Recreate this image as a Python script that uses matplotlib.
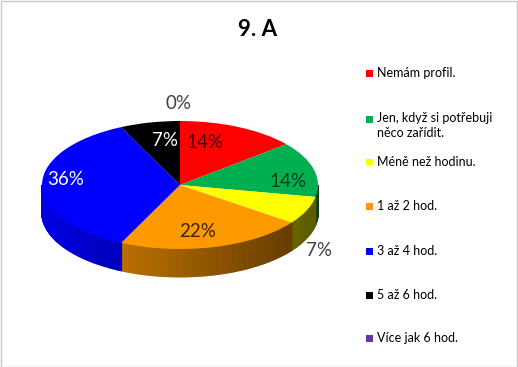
import numpy as np
import matplotlib.pyplot as plt
from matplotlib.patches import Polygon, Rectangle
from matplotlib.colors import to_rgb

# data (percent of answers)
categories = ['Nemám profil.', 'Jen, když si potřebuji\nněco zařídit.', 'Méně než hodinu.',
              '1 až 2 hod.', '3 až 4 hod.', '5 až 6 hod.', 'Více jak 6 hod.']
percents = [14, 14, 7, 22, 36, 7, 0]
colors = ['#ff0000', '#00b050', '#ffff00', '#ff9900', '#0000ff', '#000000', '#7030a0']
title = '9. A'

# label placement in pie units (Excel puts them by hand-ish) and text colour
lab_pos = [(0.18, 0.66), (0.78, 0.05), (1.01, -1.02), (0.13, -0.73),
           (-0.83, 0.08), (-0.11, 0.69), (-0.01, 1.28)]
lab_col = ['#3a0000', '#0b3a1c', '#404040', '#3a2400', 'white', 'white', '#404040']

plt.rcParams['font.family'] = ['Lato', 'DejaVu Sans']

W, H = 518, 367
fig = plt.figure(figsize=(W / 100, H / 100), dpi=100)

# pie axes: 1 unit in x = 138 px, 1 unit in y = 64 px
rx, ry = 138, 64
cx, cy = 180, 185
xl, yl = (-1.25, 1.25), (-1.8, 1.4)
ax = fig.add_axes([(cx - rx * 1.25) / W, (H - cy + yl[0] * ry) / H,
                   2.5 * rx / W, (yl[1] - yl[0]) * ry / H])

depth = 0.43

wedges, _ = ax.pie(percents, colors=colors, startangle=90, counterclock=False,
                   wedgeprops=dict(linewidth=0, zorder=3))
ax.set_aspect('auto')
ax.set_xlim(*xl)
ax.set_ylim(*yl)
ax.axis('off')

# side of the cylinder (front half only), shaded darker to the right
for w, c in zip(wedges, colors):
    a, b = w.theta1, w.theta2
    base = np.array(to_rgb(c))
    for k in range(-2, 2):
        lo = max(a, 180 + 360 * k)
        hi = min(b, 360 + 360 * k)
        if hi <= lo:
            continue
        ts = np.radians(np.linspace(lo, hi, max(2, int(hi - lo) + 1)))
        for t1, t2 in zip(ts[:-1], ts[1:]):
            xm = np.cos((t1 + t2) / 2)
            f = 0.62 - 0.27 * xm
            ax.add_patch(Polygon([(np.cos(t1), np.sin(t1)), (np.cos(t2), np.sin(t2)),
                                  (np.cos(t2), np.sin(t2) - depth),
                                  (np.cos(t1), np.sin(t1) - depth)],
                                 closed=True, facecolor=base * f, edgecolor=base * f,
                                 linewidth=1.2, zorder=2))

# percentage labels
for p, (lx, ly), tc in zip(percents, lab_pos, lab_col):
    ax.text(lx, ly, f'{p}%', ha='center', va='center', fontsize=13.5,
            color=tc, zorder=5)

fig.text(0.497, 1 - 30 / H, title, ha='center', va='center', fontsize=16,
         fontweight='bold', color='black')

# legend on the right
leg_y = [73, 119, 162, 206, 251, 295, 338]
for lab, c, y in zip(categories, colors, leg_y):
    fig.patches.append(Rectangle((366 / W, 1 - (y + 3.5) / H), 7 / W, 7 / H,
                                 transform=fig.transFigure, facecolor=c,
                                 edgecolor='none'))
    if '\n' in lab:
        fig.text(377 / W, 1 - (y - 7) / H, lab, ha='left', va='top', fontsize=9,
                 color='black', linespacing=1.25)
    else:
        fig.text(377 / W, 1 - y / H, lab, ha='left', va='center', fontsize=9,
                 color='black')

# chart border
fig.patches.append(Rectangle((0.5 / W, 0.5 / H), 1 - 1.5 / W, 1 - 1.5 / H,
                             transform=fig.transFigure, facecolor='none',
                             edgecolor='#c8c8c8', linewidth=1))

fig.savefig('out.png', dpi=100)
